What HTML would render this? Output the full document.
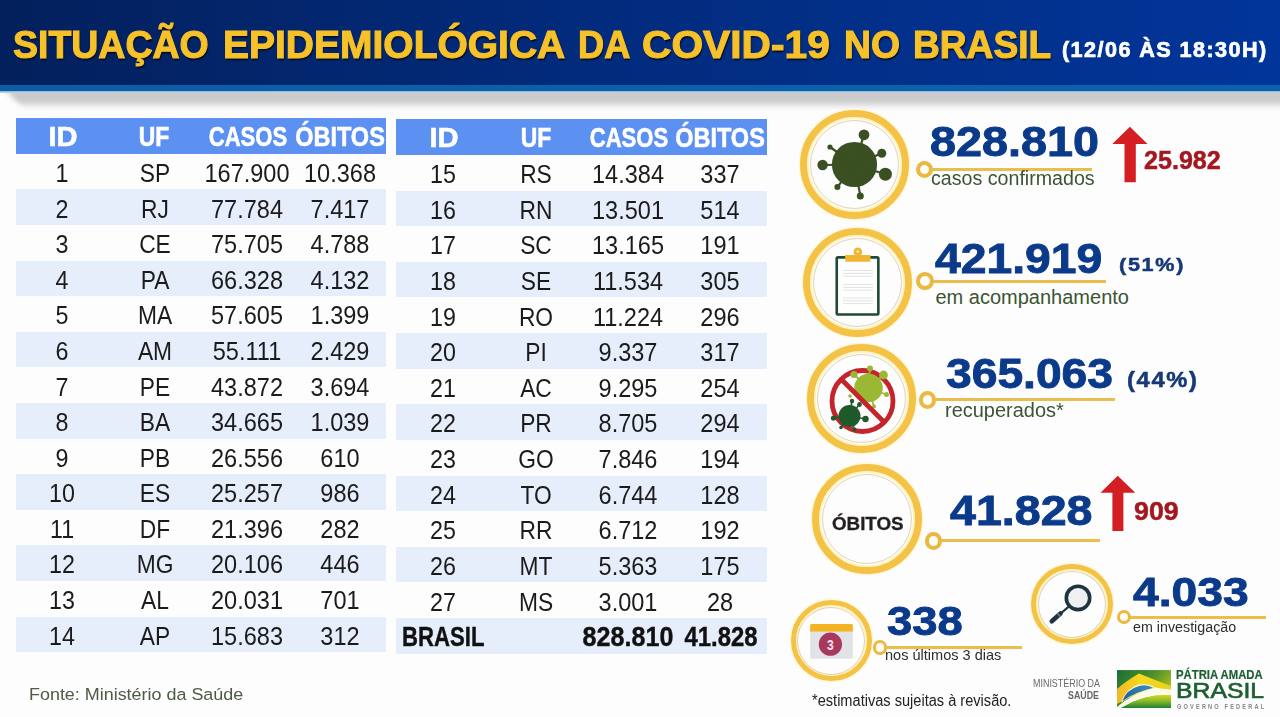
<!DOCTYPE html>
<html><head><meta charset="utf-8">
<style>
*{margin:0;padding:0;box-sizing:border-box}
html,body{width:1280px;height:717px;overflow:hidden;background:#fdfdfd}
body{position:relative;font-family:"Liberation Sans",sans-serif}
.a{position:absolute;white-space:nowrap}
#hdr{position:absolute;left:0;top:0;width:1280px;height:85px;background:linear-gradient(90deg,#03205c 0%,#022b7c 45%,#02359a 100%)}
#stripe{position:absolute;left:0;top:84.6px;width:1280px;height:6.8px;background:linear-gradient(90deg,#0a5ea6,#0a62ae)}
#hl{position:absolute;left:0;top:91.4px;width:1280px;height:2px;background:linear-gradient(180deg,#8fb0d0,#c8d6e6)}
#shwrap{position:absolute;left:0;top:91px;width:1280px;height:22px;overflow:hidden}#shadow{position:absolute;left:3px;top:-4px;width:1320px;height:18px;background:#cbcbcb;filter:blur(3px);transform:skewX(42deg);transform-origin:0 0}
#title{left:13px;top:20px;font-weight:bold;font-size:42px;line-height:48px;color:#f6c02b;transform-origin:0 0;text-shadow:1px 1px 1px #0a1530}
#sub{left:1062px;top:37px;font-weight:bold;font-size:22px;line-height:26px;color:#fff;transform-origin:0 0}
.row{position:absolute}
.h{background:#5c91f2}
.alt{background:#e7eefb}
.c{position:absolute;text-align:center;width:200px;line-height:1.15;color:#1b1b1b;white-space:nowrap;transform-origin:50% 0}
.hc{font-weight:bold;color:#fff;-webkit-text-stroke:0.6px #fff}
.bb{font-weight:bold;line-height:1.15;color:#111;-webkit-text-stroke:0.4px #111}
.bc{font-weight:bold;color:#111;-webkit-text-stroke:0.4px #111}
.ring{position:absolute;border-radius:50%;border:7.5px solid #f4c244;box-shadow:inset 0 0 0 2px #fff4c6,0 0 2px 1px #fff3cc}
.ring::after{content:"";position:absolute;left:3px;top:3px;right:3px;bottom:3px;border-radius:50%;border:1px solid #e2d4b0}.sm::after{left:1.5px;top:1.5px;right:1.5px;bottom:1.5px}
.big{font-weight:bold;font-size:44px;line-height:50px;color:#0b3a8b}
.lab{font-size:19px;line-height:22px;color:#3b5433}
.cn{position:absolute;width:16.5px;height:16.5px;border-radius:50%;border:4px solid #e9b941;background:#fffdf4}
.ln{position:absolute;height:3px;background:#ebbd4c}
.pct{font-weight:bold;font-size:22px;line-height:26px;color:#0b3a8b}
.red{font-weight:bold;font-size:26px;line-height:30px;color:#b3161f}
</style></head><body>
<div id="shwrap"><div id="shadow"></div></div>
<div id="hdr"></div>
<div id="stripe"></div>
<div id="hl"></div>
<div class="row h" style="left:16px;top:118.30px;width:370px;height:35.59px"></div>
<div class="row alt" style="left:16px;top:189.48px;width:370px;height:35.59px"></div>
<div class="row alt" style="left:16px;top:260.66px;width:370px;height:35.59px"></div>
<div class="row alt" style="left:16px;top:331.84px;width:370px;height:35.59px"></div>
<div class="row alt" style="left:16px;top:403.02px;width:370px;height:35.59px"></div>
<div class="row alt" style="left:16px;top:474.20px;width:370px;height:35.59px"></div>
<div class="row alt" style="left:16px;top:545.38px;width:370px;height:35.59px"></div>
<div class="row alt" style="left:16px;top:616.56px;width:370px;height:35.59px"></div>
<div class="c hc" id="t1h0" style="left:-37.20px;top:120.20px;font-size:28.30px;transform:scaleX(1.0300)">ID</div>
<div class="c hc" id="t1h1" style="left:54.10px;top:120.20px;font-size:28.30px;transform:scaleX(0.8100)">UF</div>
<div class="c hc" id="t1h2" style="left:147.60px;top:120.20px;font-size:28.30px;transform:scaleX(0.7800)">CASOS</div>
<div class="c hc" id="t1h3" style="left:239.90px;top:120.20px;font-size:28.30px;transform:scaleX(0.8300)">ÓBITOS</div>
<div class="c " id="t1r0c0" style="left:-38.40px;top:158.99px;font-size:25.30px;transform:scaleX(0.9200)">1</div>
<div class="c " id="t1r0c1" style="left:54.60px;top:158.99px;font-size:25.30px;transform:scaleX(0.9000)">SP</div>
<div class="c " id="t1r0c2" style="left:147.10px;top:158.99px;font-size:25.30px;transform:scaleX(0.9300)">167.900</div>
<div class="c " id="t1r0c3" style="left:239.60px;top:158.99px;font-size:25.30px;transform:scaleX(0.9300)">10.368</div>
<div class="c " id="t1r1c0" style="left:-38.40px;top:194.58px;font-size:25.30px;transform:scaleX(0.9200)">2</div>
<div class="c " id="t1r1c1" style="left:54.60px;top:194.58px;font-size:25.30px;transform:scaleX(0.9000)">RJ</div>
<div class="c " id="t1r1c2" style="left:147.10px;top:194.58px;font-size:25.30px;transform:scaleX(0.9300)">77.784</div>
<div class="c " id="t1r1c3" style="left:239.60px;top:194.58px;font-size:25.30px;transform:scaleX(0.9300)">7.417</div>
<div class="c " id="t1r2c0" style="left:-38.40px;top:230.17px;font-size:25.30px;transform:scaleX(0.9200)">3</div>
<div class="c " id="t1r2c1" style="left:54.60px;top:230.17px;font-size:25.30px;transform:scaleX(0.9000)">CE</div>
<div class="c " id="t1r2c2" style="left:147.10px;top:230.17px;font-size:25.30px;transform:scaleX(0.9300)">75.705</div>
<div class="c " id="t1r2c3" style="left:239.60px;top:230.17px;font-size:25.30px;transform:scaleX(0.9300)">4.788</div>
<div class="c " id="t1r3c0" style="left:-38.40px;top:265.76px;font-size:25.30px;transform:scaleX(0.9200)">4</div>
<div class="c " id="t1r3c1" style="left:54.60px;top:265.76px;font-size:25.30px;transform:scaleX(0.9000)">PA</div>
<div class="c " id="t1r3c2" style="left:147.10px;top:265.76px;font-size:25.30px;transform:scaleX(0.9300)">66.328</div>
<div class="c " id="t1r3c3" style="left:239.60px;top:265.76px;font-size:25.30px;transform:scaleX(0.9300)">4.132</div>
<div class="c " id="t1r4c0" style="left:-38.40px;top:301.35px;font-size:25.30px;transform:scaleX(0.9200)">5</div>
<div class="c " id="t1r4c1" style="left:54.60px;top:301.35px;font-size:25.30px;transform:scaleX(0.9000)">MA</div>
<div class="c " id="t1r4c2" style="left:147.10px;top:301.35px;font-size:25.30px;transform:scaleX(0.9300)">57.605</div>
<div class="c " id="t1r4c3" style="left:239.60px;top:301.35px;font-size:25.30px;transform:scaleX(0.9300)">1.399</div>
<div class="c " id="t1r5c0" style="left:-38.40px;top:336.94px;font-size:25.30px;transform:scaleX(0.9200)">6</div>
<div class="c " id="t1r5c1" style="left:54.60px;top:336.94px;font-size:25.30px;transform:scaleX(0.9000)">AM</div>
<div class="c " id="t1r5c2" style="left:147.10px;top:336.94px;font-size:25.30px;transform:scaleX(0.9300)">55.111</div>
<div class="c " id="t1r5c3" style="left:239.60px;top:336.94px;font-size:25.30px;transform:scaleX(0.9300)">2.429</div>
<div class="c " id="t1r6c0" style="left:-38.40px;top:372.53px;font-size:25.30px;transform:scaleX(0.9200)">7</div>
<div class="c " id="t1r6c1" style="left:54.60px;top:372.53px;font-size:25.30px;transform:scaleX(0.9000)">PE</div>
<div class="c " id="t1r6c2" style="left:147.10px;top:372.53px;font-size:25.30px;transform:scaleX(0.9300)">43.872</div>
<div class="c " id="t1r6c3" style="left:239.60px;top:372.53px;font-size:25.30px;transform:scaleX(0.9300)">3.694</div>
<div class="c " id="t1r7c0" style="left:-38.40px;top:408.12px;font-size:25.30px;transform:scaleX(0.9200)">8</div>
<div class="c " id="t1r7c1" style="left:54.60px;top:408.12px;font-size:25.30px;transform:scaleX(0.9000)">BA</div>
<div class="c " id="t1r7c2" style="left:147.10px;top:408.12px;font-size:25.30px;transform:scaleX(0.9300)">34.665</div>
<div class="c " id="t1r7c3" style="left:239.60px;top:408.12px;font-size:25.30px;transform:scaleX(0.9300)">1.039</div>
<div class="c " id="t1r8c0" style="left:-38.40px;top:443.71px;font-size:25.30px;transform:scaleX(0.9200)">9</div>
<div class="c " id="t1r8c1" style="left:54.60px;top:443.71px;font-size:25.30px;transform:scaleX(0.9000)">PB</div>
<div class="c " id="t1r8c2" style="left:147.10px;top:443.71px;font-size:25.30px;transform:scaleX(0.9300)">26.556</div>
<div class="c " id="t1r8c3" style="left:239.60px;top:443.71px;font-size:25.30px;transform:scaleX(0.9300)">610</div>
<div class="c " id="t1r9c0" style="left:-38.40px;top:479.30px;font-size:25.30px;transform:scaleX(0.9200)">10</div>
<div class="c " id="t1r9c1" style="left:54.60px;top:479.30px;font-size:25.30px;transform:scaleX(0.9000)">ES</div>
<div class="c " id="t1r9c2" style="left:147.10px;top:479.30px;font-size:25.30px;transform:scaleX(0.9300)">25.257</div>
<div class="c " id="t1r9c3" style="left:239.60px;top:479.30px;font-size:25.30px;transform:scaleX(0.9300)">986</div>
<div class="c " id="t1r10c0" style="left:-38.40px;top:514.89px;font-size:25.30px;transform:scaleX(0.9200)">11</div>
<div class="c " id="t1r10c1" style="left:54.60px;top:514.89px;font-size:25.30px;transform:scaleX(0.9000)">DF</div>
<div class="c " id="t1r10c2" style="left:147.10px;top:514.89px;font-size:25.30px;transform:scaleX(0.9300)">21.396</div>
<div class="c " id="t1r10c3" style="left:239.60px;top:514.89px;font-size:25.30px;transform:scaleX(0.9300)">282</div>
<div class="c " id="t1r11c0" style="left:-38.40px;top:550.48px;font-size:25.30px;transform:scaleX(0.9200)">12</div>
<div class="c " id="t1r11c1" style="left:54.60px;top:550.48px;font-size:25.30px;transform:scaleX(0.9000)">MG</div>
<div class="c " id="t1r11c2" style="left:147.10px;top:550.48px;font-size:25.30px;transform:scaleX(0.9300)">20.106</div>
<div class="c " id="t1r11c3" style="left:239.60px;top:550.48px;font-size:25.30px;transform:scaleX(0.9300)">446</div>
<div class="c " id="t1r12c0" style="left:-38.40px;top:586.07px;font-size:25.30px;transform:scaleX(0.9200)">13</div>
<div class="c " id="t1r12c1" style="left:54.60px;top:586.07px;font-size:25.30px;transform:scaleX(0.9000)">AL</div>
<div class="c " id="t1r12c2" style="left:147.10px;top:586.07px;font-size:25.30px;transform:scaleX(0.9300)">20.031</div>
<div class="c " id="t1r12c3" style="left:239.60px;top:586.07px;font-size:25.30px;transform:scaleX(0.9300)">701</div>
<div class="c " id="t1r13c0" style="left:-38.40px;top:621.66px;font-size:25.30px;transform:scaleX(0.9200)">14</div>
<div class="c " id="t1r13c1" style="left:54.60px;top:621.66px;font-size:25.30px;transform:scaleX(0.9000)">AP</div>
<div class="c " id="t1r13c2" style="left:147.10px;top:621.66px;font-size:25.30px;transform:scaleX(0.9300)">15.683</div>
<div class="c " id="t1r13c3" style="left:239.60px;top:621.66px;font-size:25.30px;transform:scaleX(0.9300)">312</div>
<div class="row h" style="left:396px;top:119.30px;width:371px;height:35.63px"></div>
<div class="row alt" style="left:396px;top:190.56px;width:371px;height:35.63px"></div>
<div class="row alt" style="left:396px;top:261.82px;width:371px;height:35.63px"></div>
<div class="row alt" style="left:396px;top:333.08px;width:371px;height:35.63px"></div>
<div class="row alt" style="left:396px;top:404.34px;width:371px;height:35.63px"></div>
<div class="row alt" style="left:396px;top:475.60px;width:371px;height:35.63px"></div>
<div class="row alt" style="left:396px;top:546.86px;width:371px;height:35.63px"></div>
<div class="row alt" style="left:396px;top:618.12px;width:371px;height:35.63px"></div>
<div class="c hc" id="t2h0" style="left:344.10px;top:121.20px;font-size:28.30px;transform:scaleX(1.0300)">ID</div>
<div class="c hc" id="t2h1" style="left:435.50px;top:121.20px;font-size:28.30px;transform:scaleX(0.8100)">UF</div>
<div class="c hc" id="t2h2" style="left:528.70px;top:121.20px;font-size:28.30px;transform:scaleX(0.7800)">CASOS</div>
<div class="c hc" id="t2h3" style="left:620.10px;top:121.20px;font-size:28.30px;transform:scaleX(0.8300)">ÓBITOS</div>
<div class="c " id="t2r0c0" style="left:342.90px;top:160.03px;font-size:25.30px;transform:scaleX(0.9200)">15</div>
<div class="c " id="t2r0c1" style="left:436.00px;top:160.03px;font-size:25.30px;transform:scaleX(0.9000)">RS</div>
<div class="c " id="t2r0c2" style="left:528.20px;top:160.03px;font-size:25.30px;transform:scaleX(0.9300)">14.384</div>
<div class="c " id="t2r0c3" style="left:619.80px;top:160.03px;font-size:25.30px;transform:scaleX(0.9300)">337</div>
<div class="c " id="t2r1c0" style="left:342.90px;top:195.66px;font-size:25.30px;transform:scaleX(0.9200)">16</div>
<div class="c " id="t2r1c1" style="left:436.00px;top:195.66px;font-size:25.30px;transform:scaleX(0.9000)">RN</div>
<div class="c " id="t2r1c2" style="left:528.20px;top:195.66px;font-size:25.30px;transform:scaleX(0.9300)">13.501</div>
<div class="c " id="t2r1c3" style="left:619.80px;top:195.66px;font-size:25.30px;transform:scaleX(0.9300)">514</div>
<div class="c " id="t2r2c0" style="left:342.90px;top:231.29px;font-size:25.30px;transform:scaleX(0.9200)">17</div>
<div class="c " id="t2r2c1" style="left:436.00px;top:231.29px;font-size:25.30px;transform:scaleX(0.9000)">SC</div>
<div class="c " id="t2r2c2" style="left:528.20px;top:231.29px;font-size:25.30px;transform:scaleX(0.9300)">13.165</div>
<div class="c " id="t2r2c3" style="left:619.80px;top:231.29px;font-size:25.30px;transform:scaleX(0.9300)">191</div>
<div class="c " id="t2r3c0" style="left:342.90px;top:266.92px;font-size:25.30px;transform:scaleX(0.9200)">18</div>
<div class="c " id="t2r3c1" style="left:436.00px;top:266.92px;font-size:25.30px;transform:scaleX(0.9000)">SE</div>
<div class="c " id="t2r3c2" style="left:528.20px;top:266.92px;font-size:25.30px;transform:scaleX(0.9300)">11.534</div>
<div class="c " id="t2r3c3" style="left:619.80px;top:266.92px;font-size:25.30px;transform:scaleX(0.9300)">305</div>
<div class="c " id="t2r4c0" style="left:342.90px;top:302.55px;font-size:25.30px;transform:scaleX(0.9200)">19</div>
<div class="c " id="t2r4c1" style="left:436.00px;top:302.55px;font-size:25.30px;transform:scaleX(0.9000)">RO</div>
<div class="c " id="t2r4c2" style="left:528.20px;top:302.55px;font-size:25.30px;transform:scaleX(0.9300)">11.224</div>
<div class="c " id="t2r4c3" style="left:619.80px;top:302.55px;font-size:25.30px;transform:scaleX(0.9300)">296</div>
<div class="c " id="t2r5c0" style="left:342.90px;top:338.18px;font-size:25.30px;transform:scaleX(0.9200)">20</div>
<div class="c " id="t2r5c1" style="left:436.00px;top:338.18px;font-size:25.30px;transform:scaleX(0.9000)">PI</div>
<div class="c " id="t2r5c2" style="left:528.20px;top:338.18px;font-size:25.30px;transform:scaleX(0.9300)">9.337</div>
<div class="c " id="t2r5c3" style="left:619.80px;top:338.18px;font-size:25.30px;transform:scaleX(0.9300)">317</div>
<div class="c " id="t2r6c0" style="left:342.90px;top:373.81px;font-size:25.30px;transform:scaleX(0.9200)">21</div>
<div class="c " id="t2r6c1" style="left:436.00px;top:373.81px;font-size:25.30px;transform:scaleX(0.9000)">AC</div>
<div class="c " id="t2r6c2" style="left:528.20px;top:373.81px;font-size:25.30px;transform:scaleX(0.9300)">9.295</div>
<div class="c " id="t2r6c3" style="left:619.80px;top:373.81px;font-size:25.30px;transform:scaleX(0.9300)">254</div>
<div class="c " id="t2r7c0" style="left:342.90px;top:409.44px;font-size:25.30px;transform:scaleX(0.9200)">22</div>
<div class="c " id="t2r7c1" style="left:436.00px;top:409.44px;font-size:25.30px;transform:scaleX(0.9000)">PR</div>
<div class="c " id="t2r7c2" style="left:528.20px;top:409.44px;font-size:25.30px;transform:scaleX(0.9300)">8.705</div>
<div class="c " id="t2r7c3" style="left:619.80px;top:409.44px;font-size:25.30px;transform:scaleX(0.9300)">294</div>
<div class="c " id="t2r8c0" style="left:342.90px;top:445.07px;font-size:25.30px;transform:scaleX(0.9200)">23</div>
<div class="c " id="t2r8c1" style="left:436.00px;top:445.07px;font-size:25.30px;transform:scaleX(0.9000)">GO</div>
<div class="c " id="t2r8c2" style="left:528.20px;top:445.07px;font-size:25.30px;transform:scaleX(0.9300)">7.846</div>
<div class="c " id="t2r8c3" style="left:619.80px;top:445.07px;font-size:25.30px;transform:scaleX(0.9300)">194</div>
<div class="c " id="t2r9c0" style="left:342.90px;top:480.70px;font-size:25.30px;transform:scaleX(0.9200)">24</div>
<div class="c " id="t2r9c1" style="left:436.00px;top:480.70px;font-size:25.30px;transform:scaleX(0.9000)">TO</div>
<div class="c " id="t2r9c2" style="left:528.20px;top:480.70px;font-size:25.30px;transform:scaleX(0.9300)">6.744</div>
<div class="c " id="t2r9c3" style="left:619.80px;top:480.70px;font-size:25.30px;transform:scaleX(0.9300)">128</div>
<div class="c " id="t2r10c0" style="left:342.90px;top:516.33px;font-size:25.30px;transform:scaleX(0.9200)">25</div>
<div class="c " id="t2r10c1" style="left:436.00px;top:516.33px;font-size:25.30px;transform:scaleX(0.9000)">RR</div>
<div class="c " id="t2r10c2" style="left:528.20px;top:516.33px;font-size:25.30px;transform:scaleX(0.9300)">6.712</div>
<div class="c " id="t2r10c3" style="left:619.80px;top:516.33px;font-size:25.30px;transform:scaleX(0.9300)">192</div>
<div class="c " id="t2r11c0" style="left:342.90px;top:551.96px;font-size:25.30px;transform:scaleX(0.9200)">26</div>
<div class="c " id="t2r11c1" style="left:436.00px;top:551.96px;font-size:25.30px;transform:scaleX(0.9000)">MT</div>
<div class="c " id="t2r11c2" style="left:528.20px;top:551.96px;font-size:25.30px;transform:scaleX(0.9300)">5.363</div>
<div class="c " id="t2r11c3" style="left:619.80px;top:551.96px;font-size:25.30px;transform:scaleX(0.9300)">175</div>
<div class="c " id="t2r12c0" style="left:342.90px;top:587.59px;font-size:25.30px;transform:scaleX(0.9200)">27</div>
<div class="c " id="t2r12c1" style="left:436.00px;top:587.59px;font-size:25.30px;transform:scaleX(0.9000)">MS</div>
<div class="c " id="t2r12c2" style="left:528.20px;top:587.59px;font-size:25.30px;transform:scaleX(0.9300)">3.001</div>
<div class="c " id="t2r12c3" style="left:619.80px;top:587.59px;font-size:25.30px;transform:scaleX(0.9300)">28</div>
<div class="a bb" id="t2b0" style="left:401.50px;top:622.32px;font-size:27.00px;transform:scaleX(0.8200);transform-origin:0 0">BRASIL</div>
<div class="c bc" id="t2b2" style="left:528.40px;top:622.32px;font-size:27.00px;transform:scaleX(0.9300)">828.810</div>
<div class="c bc" id="t2b3" style="left:620.50px;top:622.32px;font-size:27.00px;transform:scaleX(0.8850)">41.828</div>
<!-- circle 1 -->
<div class="ring" style="left:800px;top:109.5px;width:109px;height:109px"></div>
<svg class="a" style="left:800px;top:109.5px" width="109" height="109" viewBox="0 0 109 109">
 <g fill="#3a4f22" stroke="#3a4f22" stroke-width="2.2">
  <circle cx="54.5" cy="54.5" r="22.6" stroke="none"/>
  <line x1="54.5" y1="54.5" x2="64" y2="24.8"/><circle cx="64" cy="24.8" r="5.4" stroke="none"/>
  <line x1="54.5" y1="54.5" x2="30" y2="37"/><circle cx="30" cy="37" r="2.6" stroke="none"/>
  <line x1="54.5" y1="54.5" x2="81.8" y2="43.2"/><circle cx="81.8" cy="43.2" r="4.5" stroke="none"/>
  <line x1="54.5" y1="54.5" x2="22.6" y2="55"/><circle cx="22.6" cy="55" r="5.2" stroke="none"/>
  <line x1="54.5" y1="54.5" x2="85.4" y2="64.2"/><circle cx="85.4" cy="64.2" r="6.5" stroke="none"/>
  <line x1="54.5" y1="54.5" x2="37.4" y2="77.1"/><circle cx="37.4" cy="77.1" r="3" stroke="none"/>
  <line x1="54.5" y1="54.5" x2="60.3" y2="85.9"/><circle cx="60.3" cy="85.9" r="3.5" stroke="none"/>
 </g>
</svg>
<div class="cn" style="left:915.9px;top:160.9px;width:17px;height:17px"></div>
<div class="ln" style="left:932px;top:167.8px;width:159.7px;height:2.9px"></div>
<svg class="a" style="left:1110px;top:125px" width="40" height="60" viewBox="0 0 40 60">
 <polygon points="19.9,1.8 37.5,18.9 25.8,18.9 25.8,57.2 14.5,57.2 14.5,18.9 2.3,18.9" fill="#d31e24"/>
</svg>

<!-- circle 2 -->
<div class="ring" style="left:802.5px;top:227.5px;width:109px;height:109px"></div>
<svg class="a" style="left:802.5px;top:227.5px" width="109" height="109" viewBox="0 0 109 109">
 <rect x="33.75" y="29.35" width="41.6" height="57.2" rx="1.2" fill="#fff" stroke="#1f4a33" stroke-width="2.6"/>
 <g stroke="#e2e2e2" stroke-width="1">
  <line x1="39.8" y1="42.6" x2="70" y2="42.6"/><line x1="39.8" y1="45.4" x2="70" y2="45.4"/><line x1="39.8" y1="48.2" x2="70" y2="48.2"/>
  <line x1="39.8" y1="56.6" x2="70" y2="56.6"/><line x1="39.8" y1="59.4" x2="70" y2="59.4"/><line x1="39.8" y1="62.2" x2="70" y2="62.2"/>
  <line x1="39.8" y1="70" x2="70" y2="70"/><line x1="39.8" y1="72.8" x2="70" y2="72.8"/><line x1="39.8" y1="75.6" x2="70" y2="75.6"/>
 </g>
 <path d="M42 27 L67.7 27 L67.2 33.7 L42.5 33.7Z" fill="#f2b530"/>
 <circle cx="54.8" cy="23.9" r="4.3" fill="#f2b530"/>
 <circle cx="54.8" cy="23.6" r="1.4" fill="#fde9b8"/>
</svg>
<div class="cn" style="left:916.35px;top:272.25px;width:17.5px;height:17.5px"></div>
<div class="ln" style="left:933px;top:279.6px;width:173px;height:3px"></div>

<!-- circle 3 -->
<div class="ring" style="left:806.5px;top:344px;width:109px;height:109px"></div>
<svg class="a" style="left:806.5px;top:344px" width="109" height="109" viewBox="0 0 109 109">
 <circle cx="55.5" cy="57" r="30.5" fill="none" stroke="#c4242c" stroke-width="4.8"/>
 <g fill="#9bb834">
  <circle cx="61.5" cy="44" r="14.3"/>
  <circle cx="47" cy="30.5" r="3.6"/><circle cx="63" cy="24.5" r="3"/><circle cx="76.5" cy="31" r="4.4"/>
  <circle cx="79.5" cy="50.5" r="2.5"/><circle cx="67" cy="62.5" r="2"/><circle cx="43" cy="52" r="1.8"/>
  <g stroke="#9bb834" stroke-width="1.8"><line x1="61" y1="44" x2="47" y2="30.5"/><line x1="61" y1="44" x2="63" y2="24.5"/><line x1="61" y1="44" x2="76.5" y2="31"/><line x1="61" y1="44" x2="79.5" y2="50.5"/><line x1="61" y1="44" x2="67" y2="62.5"/></g>
 </g>
 <line x1="34" y1="35" x2="78" y2="79" stroke="#c4242c" stroke-width="4.8"/>
 <g fill="#1f5a2b">
  <circle cx="42.5" cy="72" r="11"/>
  <circle cx="26.5" cy="74" r="2.6"/><circle cx="52.5" cy="60.5" r="2.4"/><circle cx="58.5" cy="75" r="3.2"/>
  <circle cx="34" cy="83.5" r="1.8"/><circle cx="47.5" cy="85.5" r="2"/><circle cx="45" cy="57" r="2.2"/>
  <g stroke="#1f5a2b" stroke-width="1.6"><line x1="42.5" y1="72" x2="26.5" y2="74"/><line x1="42.5" y1="72" x2="52.5" y2="60.5"/><line x1="42.5" y1="72" x2="58.5" y2="75"/><line x1="42.5" y1="72" x2="47.5" y2="85.5"/><line x1="42.5" y1="72" x2="45" y2="57"/><line x1="42.5" y1="72" x2="34" y2="83.5"/></g>
 </g>
</svg>
<div class="cn" style="left:918.65px;top:391.25px;width:17.5px;height:17.5px"></div>
<div class="ln" style="left:935px;top:398.2px;width:180px;height:3.3px"></div>

<!-- circle 4 -->
<div class="ring" style="left:812.3px;top:463.5px;width:110px;height:110px"></div>
<div class="cn" style="left:924.65px;top:532.45px;width:17.5px;height:17.5px"></div>
<div class="ln" style="left:941px;top:539.1px;width:159px;height:3.4px"></div>
<svg class="a" style="left:1098px;top:473px" width="40" height="60" viewBox="0 0 40 60">
 <polygon points="19.7,2.7 37.3,19.7 25.4,19.7 25.4,58.1 14.4,58.1 14.4,19.7 2.5,19.7" fill="#d31e24"/>
</svg>

<!-- circle 5 -->
<div class="ring sm" style="left:790.8px;top:600px;width:81px;height:81px;border-width:5.6px"></div>
<svg class="a" style="left:790.8px;top:600px" width="81" height="81" viewBox="0 0 81 81">
 <rect x="19.2" y="24.2" width="42.6" height="34.6" rx="1" fill="#e2e3e6"/>
 <path d="M19.2 31.6 L19.2 25.6 Q19.2 24 20.8 24 L60.2 24 Q61.8 24 61.8 25.6 L61.8 31.6Z" fill="#f4b320"/>
 <circle cx="39.4" cy="44.2" r="11.6" fill="#a8385c"/>
 <text x="0" y="0" transform="translate(39.5 49.6) scale(0.82 1)" text-anchor="middle" font-family="Liberation Sans" font-weight="bold" font-size="14.8" fill="#fbe3ec">3</text>
</svg>
<div class="cn" style="left:872.75px;top:640.05px;width:14.5px;height:14.5px;border-width:3.4px"></div>
<div class="ln" style="left:886px;top:645.6px;width:136px;height:3.1px"></div>

<!-- circle 6 -->
<div class="ring sm" style="left:1031.4px;top:564.1px;width:81.6px;height:80.4px;border-width:5.8px"></div>
<svg class="a" style="left:1032px;top:563.7px" width="80" height="80" viewBox="0 0 80 80">
 <circle cx="46" cy="33.9" r="11.7" fill="#eef0f3" stroke="#1f3440" stroke-width="3.6"/>
 <line x1="37.3" y1="42.2" x2="27.5" y2="50.5" stroke="#1f3440" stroke-width="2.2"/>
 <line x1="28.5" y1="49.5" x2="19.8" y2="57.2" stroke="#1f3440" stroke-width="4.6" stroke-linecap="round"/>
 <line x1="27.6" y1="50.4" x2="26.2" y2="51.6" stroke="#6d7b74" stroke-width="4.6"/>
</svg>
<div class="cn" style="left:1116.85px;top:610px;width:14px;height:14px;border-width:3.3px"></div>
<div class="ln" style="left:1130px;top:615.6px;width:136px;height:3.1px"></div>

<!-- footer -->
<svg class="a" style="left:1117.3px;top:670.1px" width="54" height="38.2" viewBox="0 0 54 38">
 <defs>
  <linearGradient id="gbg" x1="0" y1="0" x2="1" y2="0.6"><stop offset="0" stop-color="#1a6f36"/><stop offset="0.55" stop-color="#4f8f2a"/><stop offset="1" stop-color="#b9c81e"/></linearGradient>
  <linearGradient id="gbt" x1="0" y1="0" x2="0" y2="1"><stop offset="0" stop-color="#d6d81e"/><stop offset="0.45" stop-color="#8cbc28"/><stop offset="1" stop-color="#1f7f32"/></linearGradient>
  <linearGradient id="gyl" x1="0" y1="0" x2="1" y2="0"><stop offset="0" stop-color="#f2b62a"/><stop offset="0.4" stop-color="#f7d81c"/><stop offset="1" stop-color="#e8d41a"/></linearGradient>
  <linearGradient id="gbl" x1="0" y1="1" x2="1" y2="0"><stop offset="0" stop-color="#1b5aa0"/><stop offset="1" stop-color="#3b90c0"/></linearGradient>
 </defs>
 <rect width="54" height="38" fill="url(#gbg)"/>
 <path d="M0 34 L0 19 Q9 11 22 3.5 Q38 10 54 16 L54 22 Q28 17 0 34Z" fill="url(#gyl)"/>
 <path d="M4 32.5 Q8 19 22 14.5 Q32 13 38 17.5 Q18 22 4 32.5Z" fill="#fafbe6"/><path d="M5.5 31 Q9 19.5 22 15.8 Q31 14 36.5 18 Q19 21.5 5.5 31Z" fill="url(#gbl)"/>
 <path d="M0 37 Q15 23.5 38 17.5 Q46 19 54 19.5 L54 25 Q26 24 4 38 L0 38Z" fill="#fafbe6"/>
 <path d="M4 38 Q26 24 54 25 L54 38Z" fill="url(#gbt)"/>
</svg>
<div class="a" id="tw0" style="left:13.00px;top:24.30px;font-size:37.94px;line-height:1.15;font-weight:bold;color:#f7c12a;-webkit-text-stroke:1.1px #f7c12a;text-shadow:1px 1.5px 1.5px #000a1a,0 0 1px #000a1a;transform:scaleX(0.9883);transform-origin:0 0">SITUAÇÃO</div>
<div class="a" id="tw1" style="left:222.50px;top:24.30px;font-size:37.94px;line-height:1.15;font-weight:bold;color:#f7c12a;-webkit-text-stroke:1.1px #f7c12a;text-shadow:1px 1.5px 1.5px #000a1a,0 0 1px #000a1a;transform:scaleX(1.0281);transform-origin:0 0">EPIDEMIOLÓGICA</div>
<div class="a" id="tw2" style="left:577.75px;top:24.30px;font-size:37.94px;line-height:1.15;font-weight:bold;color:#f7c12a;-webkit-text-stroke:1.1px #f7c12a;text-shadow:1px 1.5px 1.5px #000a1a,0 0 1px #000a1a;transform:scaleX(0.9541);transform-origin:0 0">DA</div>
<div class="a" id="tw3" style="left:641.50px;top:24.30px;font-size:37.94px;line-height:1.15;font-weight:bold;color:#f7c12a;-webkit-text-stroke:1.1px #f7c12a;text-shadow:1px 1.5px 1.5px #000a1a,0 0 1px #000a1a;transform:scaleX(1.0736);transform-origin:0 0">COVID-19</div>
<div class="a" id="tw4" style="left:843.50px;top:24.30px;font-size:37.94px;line-height:1.15;font-weight:bold;color:#f7c12a;-webkit-text-stroke:1.1px #f7c12a;text-shadow:1px 1.5px 1.5px #000a1a,0 0 1px #000a1a;transform:scaleX(0.9857);transform-origin:0 0">NO</div>
<div class="a" id="tw5" style="left:912.75px;top:24.30px;font-size:37.94px;line-height:1.15;font-weight:bold;color:#f7c12a;-webkit-text-stroke:1.1px #f7c12a;text-shadow:1px 1.5px 1.5px #000a1a,0 0 1px #000a1a;transform:scaleX(0.9788);transform-origin:0 0">BRASIL</div>
<div class="a" id="sub" style="left:1062.00px;top:38.00px;font-size:21.30px;line-height:1.15;font-weight:bold;color:#fff;-webkit-text-stroke:0.7px #fff;letter-spacing:1.4px;transform:scaleX(1.0150);transform-origin:0 0">(12/06 ÀS 18:30H)</div>
<div class="a" id="n1" style="left:929.80px;top:118.00px;font-size:42.11px;line-height:1.15;font-weight:bold;color:#0b3a8b;-webkit-text-stroke:0.9px #0b3a8b;transform:scaleX(1.1101);transform-origin:0 0">828.810</div>
<div class="a" id="n2" style="left:935.40px;top:234.70px;font-size:42.11px;line-height:1.15;font-weight:bold;color:#0b3a8b;-webkit-text-stroke:0.9px #0b3a8b;transform:scaleX(1.0987);transform-origin:0 0">421.919</div>
<div class="a" id="n3" style="left:946.30px;top:350.00px;font-size:41.83px;line-height:1.15;font-weight:bold;color:#0b3a8b;-webkit-text-stroke:0.9px #0b3a8b;transform:scaleX(1.1046);transform-origin:0 0">365.063</div>
<div class="a" id="n4" style="left:949.80px;top:486.90px;font-size:41.91px;line-height:1.15;font-weight:bold;color:#0b3a8b;-webkit-text-stroke:0.9px #0b3a8b;transform:scaleX(1.1112);transform-origin:0 0">41.828</div>
<div class="a" id="n5" style="left:886.70px;top:597.80px;font-size:40.79px;line-height:1.15;font-weight:bold;color:#0b3a8b;-webkit-text-stroke:0.9px #0b3a8b;transform:scaleX(1.1124);transform-origin:0 0">338</div>
<div class="a" id="n6" style="left:1133.30px;top:567.70px;font-size:41.49px;line-height:1.15;font-weight:bold;color:#0b3a8b;-webkit-text-stroke:0.9px #0b3a8b;transform:scaleX(1.1143);transform-origin:0 0">4.033</div>
<div class="a" id="r1" style="left:1143.70px;top:144.80px;font-size:26.46px;line-height:1.15;font-weight:bold;color:#a5171e;-webkit-text-stroke:0.5px #a5171e;transform:scaleX(0.9488);transform-origin:0 0">25.982</div>
<div class="a" id="r4" style="left:1133.50px;top:495.50px;font-size:26.59px;line-height:1.15;font-weight:bold;color:#a5171e;-webkit-text-stroke:0.5px #a5171e;transform:scaleX(1.0067);transform-origin:0 0">909</div>
<div class="a" id="p2" style="left:1119.00px;top:254.00px;font-size:18.75px;line-height:1.15;font-weight:bold;color:#17397a;-webkit-text-stroke:0.5px #17397a;letter-spacing:1.5px;transform:scaleX(1.1490);transform-origin:0 0">(51%)</div>
<div class="a" id="p3" style="left:1127.00px;top:368.00px;font-size:21.59px;line-height:1.15;font-weight:bold;color:#17397a;-webkit-text-stroke:0.5px #17397a;letter-spacing:1.5px;transform:scaleX(1.1008);transform-origin:0 0">(44%)</div>
<div class="a" id="l1" style="left:930.60px;top:166.90px;font-size:20.11px;line-height:1.15;color:#3b5433;transform:scaleX(0.9763);transform-origin:0 0">casos confirmados</div>
<div class="a" id="l2" style="left:935.50px;top:285.50px;font-size:20.00px;line-height:1.15;color:#3b5433;transform:scaleX(1.0000);transform-origin:0 0">em acompanhamento</div>
<div class="a" id="l3" style="left:944.60px;top:398.80px;font-size:19.95px;line-height:1.15;color:#3b5433;transform:scaleX(1.0014);transform-origin:0 0">recuperados*</div>
<div class="a" id="ob" style="left:831.60px;top:514.20px;font-size:17.46px;line-height:1.15;font-weight:bold;color:#231f20;-webkit-text-stroke:0.3px #231f20;transform:scaleX(1.0758);transform-origin:0 0">ÓBITOS</div>
<div class="a" id="l5" style="left:885.00px;top:646.80px;font-size:14.74px;line-height:1.15;color:#2e2e2e;transform:scaleX(0.9864);transform-origin:0 0">nos últimos 3 dias</div>
<div class="a" id="l6" style="left:1132.70px;top:618.80px;font-size:14.04px;line-height:1.15;color:#2e2e2e;transform:scaleX(1.0178);transform-origin:0 0">em investigação</div>
<div class="a" id="fonte" style="left:29.20px;top:685.20px;font-size:17.17px;line-height:1.15;color:#4d5b45;transform:scaleX(1.0448);transform-origin:0 0">Fonte: Ministério da Saúde</div>
<div class="a" id="est" style="left:812.00px;top:692.20px;font-size:15.80px;line-height:1.15;color:#222;transform:scaleX(0.9233);transform-origin:0 0">*estimativas sujeitas à revisão.</div>
<div class="a" id="min" style="left:1032.80px;top:675.70px;font-size:11.68px;line-height:1.15;color:#6a6a6a;transform:scaleX(0.7655);transform-origin:0 0">MINISTÉRIO DA</div>
<div class="a" id="sau" style="left:1068.00px;top:688.90px;font-size:10.57px;line-height:1.15;font-weight:bold;color:#666;transform:scaleX(0.8358);transform-origin:0 0">SAÚDE</div>
<div class="a" id="pat" style="left:1176.40px;top:668.25px;font-size:12.22px;line-height:1.15;font-weight:bold;color:#1d5f33;-webkit-text-stroke:0.2px #1d5f33;transform:scaleX(0.9278);transform-origin:0 0">PÁTRIA AMADA</div>
<div class="a" id="bra" style="left:1175.80px;top:677.00px;font-size:22.83px;line-height:1.15;color:#1d5f33;-webkit-text-stroke:0.7px #1d5f33;transform:scaleX(1.0840);transform-origin:0 0">BRASIL</div>
<div class="a" id="gov" style="left:1177.10px;top:703.20px;font-size:6.53px;line-height:1.15;font-weight:bold;color:#858585;letter-spacing:2.5px;transform:scaleX(0.8634);transform-origin:0 0">GOVERNO FEDERAL</div>
</body></html>
